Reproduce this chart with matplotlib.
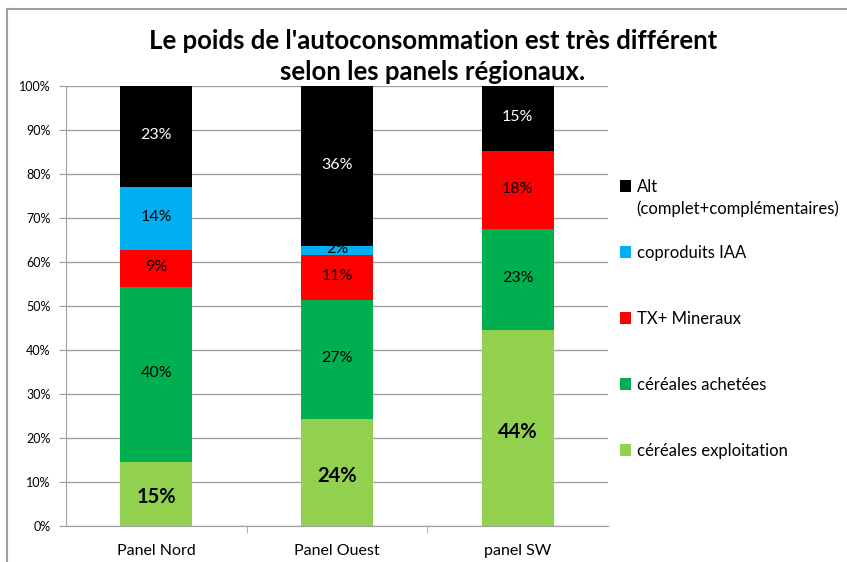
import matplotlib.pyplot as plt
from matplotlib.lines import Line2D
import numpy as np

plt.rcParams['font.family'] = ['Lato', 'DejaVu Sans']

panels = ["Panel Nord", "Panel Ouest", "panel SW"]
series = ["céréales exploitation", "céréales achetées", "TX+ Mineraux",
          "coproduits IAA", "Alt"]
alt_note = "(complet+complémentaires)"
colors = ["#92d050", "#00b050", "#ff0000", "#00b0f0", "#000000"]

expl = [14.6, 24.4, 44.5]
achet = [39.7, 26.9, 23.0]
mineraux = [8.5, 10.3, 17.7]
copro = [14.3, 2.0, 0.0]
alt = [22.9, 36.4, 14.8]

labels_expl = ["15%", "24%", "44%"]
labels_achet = ["40%", "27%", "23%"]
labels_min = ["9%", "11%", "18%"]
labels_copro = ["14%", "2%", ""]
labels_alt = ["23%", "36%", "15%"]

data = [expl, achet, mineraux, copro, alt]
lbls = [labels_expl, labels_achet, labels_min, labels_copro, labels_alt]

fig = plt.figure(figsize=(8.47, 5.62), dpi=100)
ax = fig.add_axes([66/847, 1-526/562, (608-66)/847, (526-86)/562])

x = np.arange(len(panels))
bottom = np.zeros(len(panels))
handles = []
for vals, col, name, lab in zip(data, colors, series, lbls):
    vals = np.array(vals)
    bars = ax.bar(x, vals, 0.4, bottom=bottom, color=col, label=name, zorder=3)
    handles.append(bars)
    for i, (v, t) in enumerate(zip(vals, lab)):
        if not t:
            continue
        tc = "white" if col == "#000000" else "black"
        if name == "céréales exploitation":
            ax.text(x[i], bottom[i] + v/2 - 0.8, t, ha="center", va="center",
                    fontsize=14.5, fontweight="bold", color=tc, zorder=4)
        else:
            ax.text(x[i], bottom[i] + v/2 + 0.3, t, ha="center", va="center",
                    fontsize=11.5, color=tc, zorder=4)
    bottom += vals

ax.set_xlim(-0.5, 2.5)
ax.set_ylim(0, 100)
ax.set_yticks(np.arange(0, 101, 10))
ax.set_yticklabels([f"{v}%" for v in range(0, 101, 10)], fontsize=9)
ax.set_xticks(x)
ax.set_xticklabels(panels, fontsize=11.5)
ax.set_xticks([0.5, 1.5], minor=True)
ax.tick_params(axis="x", which="major", length=0, pad=13)
ax.tick_params(axis="x", which="minor", length=5, color="#a0a0a0")
ax.tick_params(axis="y", length=5, color="#a0a0a0", pad=6)
ax.grid(axis="y", color="#a0a0a0", linewidth=1, zorder=0)
for s in ["top", "right"]:
    ax.spines[s].set_visible(False)
ax.spines["left"].set_color("#a0a0a0")
ax.spines["bottom"].set_color("#a0a0a0")

leg = ax.legend(handles[::-1], series[::-1], loc="upper left",
                bbox_to_anchor=(1.0, 0.815), frameon=False, fontsize=12,
                handlelength=0.7, handleheight=0.7, handletextpad=0.35,
                labelspacing=3.0, borderaxespad=0.3)
# second line of the "Alt" legend entry
fig.text(636/847, 1-209/562, alt_note, ha="left", va="center", fontsize=12)

fig.text(433/847, 1-41/562, "Le poids de l'autoconsommation est très différent",
         ha="center", va="center", fontsize=18.5, fontweight="bold")
fig.text(433/847, 1-72/562, "selon les panels régionaux.",
         ha="center", va="center", fontsize=18.5, fontweight="bold")

fig.add_artist(Line2D([7/847, 1], [1-9/562, 1-9/562], color="#a0a0a0", lw=1.5))
fig.add_artist(Line2D([7/847, 7/847], [0, 1-9/562], color="#a0a0a0", lw=1.5))

fig.savefig("out.png", dpi=100)
